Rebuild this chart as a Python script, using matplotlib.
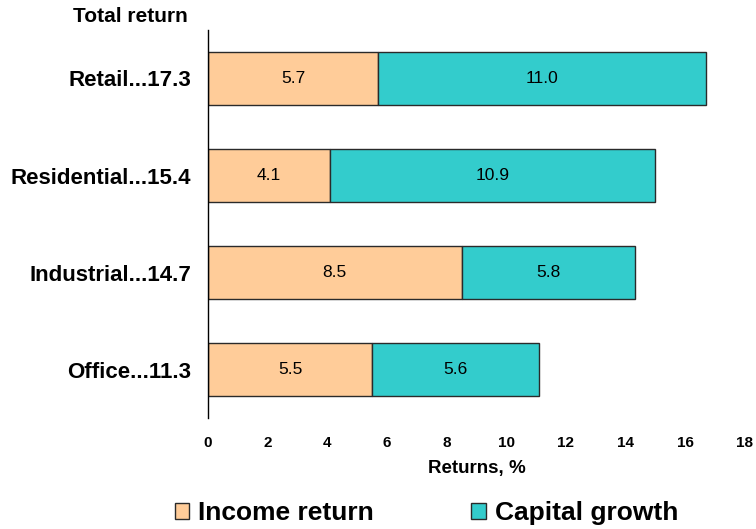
import matplotlib
matplotlib.use("Agg")
import matplotlib.pyplot as plt
from matplotlib.patches import Patch

plt.rcParams['font.family'] = ['Liberation Sans', 'DejaVu Sans']

categories = ["Retail...17.3", "Residential...15.4", "Industrial...14.7", "Office...11.3"]
income_return = [5.7, 4.1, 8.5, 5.5]
capital_growth = [11.0, 10.9, 5.8, 5.6]
xticks = [0, 2, 4, 6, 8, 10, 12, 14, 16, 18]

c_income = '#FFCC99'
c_capital = '#33CCCC'
c_edge = '#2a2a2a'

fig = plt.figure(figsize=(7.56, 5.29), dpi=100)
ax = fig.add_axes([0.2751, 0.2098, 0.7103, 0.7335])

y = list(range(len(categories)))
ax.barh(y, income_return, height=0.55, color=c_income, edgecolor=c_edge, linewidth=1.0)
ax.barh(y, capital_growth, left=income_return, height=0.55, color=c_capital, edgecolor=c_edge, linewidth=1.0)

for i in y:
    ax.text(income_return[i] / 2, i, f"{income_return[i]:.1f}", ha='center', va='center', fontsize=12.5)
    ax.text(income_return[i] + capital_growth[i] / 2, i, f"{capital_growth[i]:.1f}", ha='center', va='center', fontsize=12.5)

ax.set_ylim(len(categories) - 0.5, -0.5)
ax.set_xlim(0, 18)
ax.set_xticks(xticks)
ax.set_xticklabels([str(t) for t in xticks], fontweight='bold', fontsize=11)
ax.set_yticks(y)
ax.set_yticklabels(categories, fontweight='bold', fontsize=16)
ax.tick_params(axis='both', length=0)
ax.tick_params(axis='x', pad=13)
ax.tick_params(axis='y', pad=12)
for s in ['top', 'right', 'bottom']:
    ax.spines[s].set_visible(False)
ax.spines['left'].set_linewidth(1.0)
ax.set_xlabel("Returns, %", fontweight='bold', fontsize=13.5, labelpad=7)

fig.text(0.172, 0.969, "Total return", ha='center', va='center', fontweight='bold', fontsize=15)

handles = [Patch(facecolor=c_income, edgecolor=c_edge, label='Income return'),
           Patch(facecolor=c_capital, edgecolor=c_edge, label='Capital growth')]
fig.legend(handles=handles, loc='center', bbox_to_anchor=(0.564, 0.030), ncol=2, frameon=False,
           prop={'weight': 'bold', 'size': 19}, handlelength=0.55, handleheight=0.55,
           handletextpad=0.34, columnspacing=3.7)

fig.savefig("out.png", dpi=100)
